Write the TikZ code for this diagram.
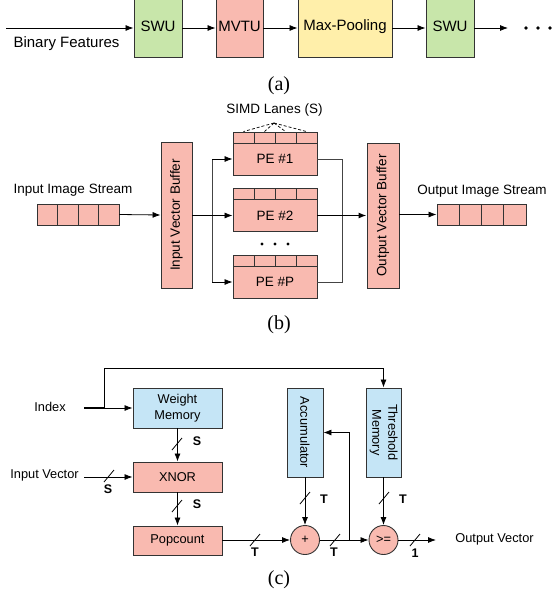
\documentclass[tikz,border=0pt]{standalone}
\usepackage{graphicx}
\usepackage{fontspec}
\setmainfont{Liberation Sans}
\newfontfamily\capfont{Liberation Serif}
\usetikzlibrary{arrows.meta,calc}
\definecolor{cgreen}{HTML}{C8E6AA}
\definecolor{csalmon}{HTML}{F9BAB0}
\definecolor{cyellow}{HTML}{FFEFAA}
\definecolor{cblue}{HTML}{C5E5F6}
\definecolor{cedge}{HTML}{333333}
\definecolor{cwire}{HTML}{444444}
\begin{document}
\begin{tikzpicture}[x=1pt,y=-1pt,
  box/.style={draw=cedge,line width=0.9pt,inner sep=0pt,anchor=center},
  fa/.style={font=\fontsize{15}{18}\selectfont},
  fb/.style={font=\fontsize{13.5}{16}\selectfont},
  fc/.style={font=\fontsize{12.8}{16}\selectfont},
  bl/.style={font=\fontsize{12.5}{15}\selectfont\bfseries},
  captxt/.style={font=\fontsize{20}{24}\capfont},
  wire/.style={draw=black,line width=0.8pt},
  gwire/.style={draw=cwire,line width=0.8pt},
  arr/.style={wire,-{Latex[length=8pt,width=6pt]}},
  lane/.style={box,fill=csalmon,minimum width=21,minimum height=11},
  pebody/.style={box,fill=csalmon,minimum width=84,minimum height=32,fb},
  cell/.style={box,fill=csalmon,minimum height=21},
  dotfill/.style={fill=black},
]
\useasboundingbox (0,0) rectangle (553,602);
\clip (0,0) rectangle (553,602);

% ---------------- (a) ----------------
\node[box,fill=cgreen,minimum width=48,minimum height=61,fa] (swu1) at (158,26.5) {SWU};
\node[box,fill=csalmon,minimum width=47,minimum height=61,fa] (mvtu) at (239.5,26.5) {MVTU};
\node[box,fill=cyellow,minimum width=94,minimum height=61,fa] (maxp) at (345,26.5) {\raisebox{2pt}{Max-Pooling}};
\node[box,fill=cgreen,minimum width=48,minimum height=61,fa] (swu2) at (450,26.5) {SWU};
\node[fa] (binf) at (66.5,44) {Binary Features};
\coordinate (ain) at (6,28);
\coordinate (aend) at (508,28);
\draw[arr] (ain) -- (swu1.west |- ain);
\draw[arr] (swu1.east |- ain) -- (mvtu.west |- ain);
\draw[arr] (mvtu.east |- ain) -- (maxp.west |- ain);
\draw[arr] (maxp.east |- ain) -- (swu2.west |- ain);
\draw[arr] (swu2.east |- ain) -- (aend);
\foreach \x in {526,538,550} \fill[dotfill] (\x,28) circle (1.8);
\node[captxt] (capa) at (279,86) {(a)};

% ---------------- (b) ----------------
\node[fb] (inlbl) at (73,190) {Input Image Stream};
\foreach \i/\x in {1/47.25,2/67.75,3/88.25,4/108.75}
  \node[cell,minimum width=20.5] (is\i) at (\x,214.5) {};
\node[box,fill=csalmon,minimum width=31,minimum height=146,fb] (ivb) at (176.5,215) {\rotatebox{90}{Input Vector Buffer}};
\draw[arr] (is4.east) -- (ivb.west);

% PEs
\node[pebody] (pe1) at (275,159) {PE \#1};
\node[pebody] (pe2) at (275,215.5) {PE \#2};
\node[pebody] (pep) at (275,282) {PE \#P};
\foreach \p/\y in {pe1/137.5,pe2/194,pep/261}
  \foreach \j/\x in {1/243.5,2/264.5,3/285.5,4/306.5}
    \node[lane] (\p l\j) at (\x,\y) {};
\foreach \x in {262,275,288} \fill[dotfill] (\x,244) circle (1.6);

\node[fb] (simdlbl) at (274.5,110) {SIMD Lanes (S)};
\coordinate (simd) at (274,123);
\foreach \j in {1,2,3,4} \draw[line width=0.7pt,dash pattern=on 3pt off 2pt] (simd) -- (pe1l\j.north);

% input bus
\coordinate (bus) at (212,215.5);
\draw[line width=1.3pt] (ivb.east |- bus) -- (bus);
\draw[gwire] (bus |- pe1) -- (bus |- pep);
\draw[arr] (bus |- pe1) -- (pe1.west);
\draw[arr] (bus) -- (pe2.west);
\draw[arr] (bus |- pep) -- (pep.west);

% output bus
\node[box,fill=csalmon,minimum width=32,minimum height=145,fb] (ovb) at (383,215.5) {\rotatebox{90}{Output Vector Buffer}};
\coordinate (obus) at (342,215.5);
\draw[gwire] (pe1.east) -| (obus);
\draw[gwire] (pep.east) -| (obus);
\draw[wire] (pe2.east) -- (obus);
\draw[arr,line width=1.2pt] (obus) -- (ovb.west);

\node[fb] (outlbl) at (482,191) {Output Image Stream};
\foreach \i/\x in {1/448.1,2/470.4,3/492.6,4/514.9}
  \node[cell,minimum width=22.25] (os\i) at (\x,214.5) {};
\draw[arr] (ovb.east |- os1) -- (os1.west);
\node[captxt] (capb) at (279,325) {(b)};

% ---------------- (c) ----------------
\node[box,fill=cblue,minimum width=89,minimum height=40,fc,align=center] (wm) at (177.5,408) {Weight\\Memory};
\node[box,fill=csalmon,minimum width=89,minimum height=30,fc] (xnor) at (177.5,477) {XNOR};
\node[box,fill=csalmon,minimum width=89,minimum height=29,fc] (pop) at (177.5,540.5) {Popcount};
\node[box,fill=cblue,minimum width=36,minimum height=89,fc] (acc) at (305,432.5) {\rotatebox{-90}{Accumulator}};
\node[box,fill=cblue,minimum width=35,minimum height=89,fc] (thr) at (383.5,432.5) {\rotatebox{-90}{\begin{tabular}{@{}c@{}}Threshold\\Memory\end{tabular}}};
\node[box,circle,fill=csalmon,minimum size=29,fc] (plus) at (305,540) {+};
\node[box,circle,fill=csalmon,minimum size=29,fc] (ge) at (383.5,540) {>=};

\node[fc] (idxlbl) at (50,407) {Index};
\node[fc] (ivlbl) at (44.5,475) {Input Vector};
\node[fc] (ovlbl) at (494.5,539) {Output Vector};

\coordinate (istart) at (84,408);
\coordinate (isplit) at (104,408);
\coordinate (topline) at (104,368);
\coordinate (ivstart) at (84,477);
\coordinate (fb) at (349,540);
\coordinate (oend) at (436,540);

\draw[line width=1.3pt] (istart) -- (isplit);
\draw[arr] (isplit) -- (wm.west);
\draw[arr] (isplit) -- (topline) -| (thr.north);
\draw[arr] (wm.south) -- (xnor.north);
\draw[arr] (ivstart) -- (xnor.west |- ivstart);
\draw[arr] (xnor.south) -- (pop.north);
\draw[arr] (pop.east |- plus) -- (plus.west);
\draw[arr] (acc.south) -- (plus.north);
\draw[arr] (plus.east) -- (ge.west);
\draw[arr] (fb) |- (acc.east);
\draw[arr] (thr.south) -- (ge.north);
\draw[arr] (ge.east) -- (oend);

% bus-width marks
\foreach \x/\y in {177/444, 177/506, 109/476, 255/540, 305/498, 335/540, 384/498, 415/540}
  \draw[wire] (\x,\y) ++(-5,6) -- ++(10,-12);
\node[bl] (s1) at (197,441) {S};
\node[bl] (s2) at (197,504) {S};
\node[bl] (s3) at (108,489) {S};
\node[bl] (t1) at (255,552) {T};
\node[bl] (t2) at (324,499) {T};
\node[bl] (t3) at (334,552) {T};
\node[bl] (t4) at (403,499) {T};
\node[bl] (one) at (415,553) {1};

\node[captxt] (capc) at (279,580) {(c)};
\end{tikzpicture}
\end{document}
